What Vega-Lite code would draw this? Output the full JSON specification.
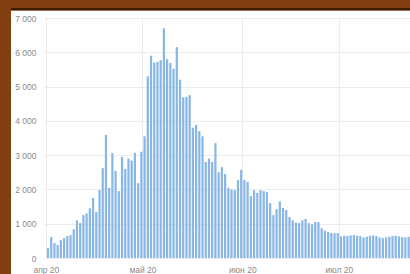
{
  "$schema": "https://vega.github.io/schema/vega-lite/v6.json",
  "width": 366,
  "height": 240,
  "autosize": {"type": "none"},
  "padding": {"left": 44, "top": 18, "right": 0, "bottom": 16},
  "background": "#ffffff",
  "config": {
    "view": {"stroke": null},
    "axis": {"labelFont": "Liberation Sans", "labelFontSize": 8.5, "labelColor": "#8a8a8a", "gridColor": "#ececec", "gridWidth": 1, "domain": false, "ticks": false, "title": null, "labelOverlap": false}
  },
  "layer": [
    {
      "data": {"values": [
        {"date": "2020-04-01", "cases": 290}, {"date": "2020-04-02", "cases": 610}, {"date": "2020-04-03", "cases": 440}, {"date": "2020-04-04", "cases": 380}, {"date": "2020-04-05", "cases": 520}, {"date": "2020-04-06", "cases": 580}, {"date": "2020-04-07", "cases": 640}, {"date": "2020-04-08", "cases": 670}, {"date": "2020-04-09", "cases": 840}, {"date": "2020-04-10", "cases": 1100},
        {"date": "2020-04-11", "cases": 1020}, {"date": "2020-04-12", "cases": 1250}, {"date": "2020-04-13", "cases": 1300}, {"date": "2020-04-14", "cases": 1450}, {"date": "2020-04-15", "cases": 1750}, {"date": "2020-04-16", "cases": 1340}, {"date": "2020-04-17", "cases": 1980}, {"date": "2020-04-18", "cases": 2620}, {"date": "2020-04-19", "cases": 3590}, {"date": "2020-04-20", "cases": 2050},
        {"date": "2020-04-21", "cases": 3060}, {"date": "2020-04-22", "cases": 2540}, {"date": "2020-04-23", "cases": 1950}, {"date": "2020-04-24", "cases": 2950}, {"date": "2020-04-25", "cases": 2600}, {"date": "2020-04-26", "cases": 2900}, {"date": "2020-04-27", "cases": 2840}, {"date": "2020-04-28", "cases": 3070}, {"date": "2020-04-29", "cases": 2180}, {"date": "2020-04-30", "cases": 3100},
        {"date": "2020-05-01", "cases": 3550}, {"date": "2020-05-02", "cases": 5300}, {"date": "2020-05-03", "cases": 5900}, {"date": "2020-05-04", "cases": 5700}, {"date": "2020-05-05", "cases": 5720}, {"date": "2020-05-06", "cases": 5770}, {"date": "2020-05-07", "cases": 6700}, {"date": "2020-05-08", "cases": 5800}, {"date": "2020-05-09", "cases": 5690}, {"date": "2020-05-10", "cases": 5520},
        {"date": "2020-05-11", "cases": 6150}, {"date": "2020-05-12", "cases": 5200}, {"date": "2020-05-13", "cases": 4690}, {"date": "2020-05-14", "cases": 4700}, {"date": "2020-05-15", "cases": 4750}, {"date": "2020-05-16", "cases": 3800}, {"date": "2020-05-17", "cases": 3880}, {"date": "2020-05-18", "cases": 3700}, {"date": "2020-05-19", "cases": 3550}, {"date": "2020-05-20", "cases": 2800},
        {"date": "2020-05-21", "cases": 2900}, {"date": "2020-05-22", "cases": 2800}, {"date": "2020-05-23", "cases": 3350}, {"date": "2020-05-24", "cases": 2500}, {"date": "2020-05-25", "cases": 2650}, {"date": "2020-05-26", "cases": 2450}, {"date": "2020-05-27", "cases": 2050}, {"date": "2020-05-28", "cases": 2000}, {"date": "2020-05-29", "cases": 1980}, {"date": "2020-05-30", "cases": 2270},
        {"date": "2020-05-31", "cases": 2570}, {"date": "2020-06-01", "cases": 2270}, {"date": "2020-06-02", "cases": 2220}, {"date": "2020-06-03", "cases": 1800}, {"date": "2020-06-04", "cases": 1980}, {"date": "2020-06-05", "cases": 1900}, {"date": "2020-06-06", "cases": 1980}, {"date": "2020-06-07", "cases": 1950}, {"date": "2020-06-08", "cases": 1920}, {"date": "2020-06-09", "cases": 1600},
        {"date": "2020-06-10", "cases": 1250}, {"date": "2020-06-11", "cases": 1420}, {"date": "2020-06-12", "cases": 1650}, {"date": "2020-06-13", "cases": 1460}, {"date": "2020-06-14", "cases": 1400}, {"date": "2020-06-15", "cases": 1200}, {"date": "2020-06-16", "cases": 1100}, {"date": "2020-06-17", "cases": 1030}, {"date": "2020-06-18", "cases": 1020}, {"date": "2020-06-19", "cases": 1100},
        {"date": "2020-06-20", "cases": 1140}, {"date": "2020-06-21", "cases": 1020}, {"date": "2020-06-22", "cases": 980}, {"date": "2020-06-23", "cases": 1050}, {"date": "2020-06-24", "cases": 1050}, {"date": "2020-06-25", "cases": 870}, {"date": "2020-06-26", "cases": 800}, {"date": "2020-06-27", "cases": 760}, {"date": "2020-06-28", "cases": 730}, {"date": "2020-06-29", "cases": 720},
        {"date": "2020-06-30", "cases": 730}, {"date": "2020-07-01", "cases": 630}, {"date": "2020-07-02", "cases": 650}, {"date": "2020-07-03", "cases": 640}, {"date": "2020-07-04", "cases": 660}, {"date": "2020-07-05", "cases": 670}, {"date": "2020-07-06", "cases": 650}, {"date": "2020-07-07", "cases": 640}, {"date": "2020-07-08", "cases": 600}, {"date": "2020-07-09", "cases": 620},
        {"date": "2020-07-10", "cases": 650}, {"date": "2020-07-11", "cases": 660}, {"date": "2020-07-12", "cases": 640}, {"date": "2020-07-13", "cases": 600}, {"date": "2020-07-14", "cases": 580}, {"date": "2020-07-15", "cases": 600}, {"date": "2020-07-16", "cases": 620}, {"date": "2020-07-17", "cases": 640}, {"date": "2020-07-18", "cases": 650}, {"date": "2020-07-19", "cases": 630},
        {"date": "2020-07-20", "cases": 610}, {"date": "2020-07-21", "cases": 600}, {"date": "2020-07-22", "cases": 620}
      ]},
      "mark": {"type": "bar", "color": "#88b6e6", "timeUnitBandSize": 0.88},
      "encoding": {
        "x": {
          "field": "date", "type": "temporal", "timeUnit": "utcyearmonthdate",
          "scale": {"type": "utc", "domain": [{"year": 2020, "month": 3, "date": 31, "hours": 10, "utc": true}, {"year": 2020, "month": 7, "date": 23, "hours": 2, "utc": true}]},
          "axis": {
            "values": [{"year": 2020, "month": 4, "date": 1, "utc": true}, {"year": 2020, "month": 5, "date": 1, "utc": true}, {"year": 2020, "month": 6, "date": 1, "utc": true}, {"year": 2020, "month": 7, "date": 1, "utc": true}],
            "labelExpr": "['янв','фев','мар','апр','май','июн','июл','авг','сен','окт','ноя','дек'][utcmonth(datum.value)] + ' 20'",
            "labelPadding": 7, "labelAlign": "center", "labelFlush": false
          }
        },
        "y": {
          "field": "cases", "type": "quantitative",
          "scale": {"domain": [0, 7000], "nice": false},
          "axis": {"values": [0, 1000, 2000, 3000, 4000, 5000, 6000, 7000], "labelExpr": "replace(format(datum.value, ','), ',', ' ')", "labelPadding": 8}
        }
      }
    },
    {
      "data": {"values": [{}]},
      "mark": {"type": "rect", "color": "#833e12"},
      "encoding": {
        "x": {"datum": {"year": 2020, "month": 3, "date": 1, "utc": true}, "type": "temporal",
          "axis": {
            "values": [{"year": 2020, "month": 4, "date": 1, "utc": true}, {"year": 2020, "month": 5, "date": 1, "utc": true}, {"year": 2020, "month": 6, "date": 1, "utc": true}, {"year": 2020, "month": 7, "date": 1, "utc": true}],
            "labelExpr": "['янв','фев','мар','апр','май','июн','июл','авг','сен','окт','ноя','дек'][utcmonth(datum.value)] + ' 20'",
            "labelPadding": 7, "labelAlign": "center", "labelFlush": false
          }},
        "x2": {"datum": {"year": 2020, "month": 3, "date": 21, "hours": 4, "utc": true}},
        "y": {"datum": 9000, "type": "quantitative",
          "axis": {"values": [0, 1000, 2000, 3000, 4000, 5000, 6000, 7000], "labelExpr": "replace(format(datum.value, ','), ',', ' ')", "labelPadding": 8}},
        "y2": {"datum": -3000}
      }
    },
    {
      "data": {"values": [{}]},
      "mark": {"type": "rect", "color": "#833e12"},
      "encoding": {
        "x": {"datum": {"year": 2020, "month": 3, "date": 1, "utc": true}, "type": "temporal",
          "axis": {
            "values": [{"year": 2020, "month": 4, "date": 1, "utc": true}, {"year": 2020, "month": 5, "date": 1, "utc": true}, {"year": 2020, "month": 6, "date": 1, "utc": true}, {"year": 2020, "month": 7, "date": 1, "utc": true}],
            "labelExpr": "['янв','фев','мар','апр','май','июн','июл','авг','сен','окт','ноя','дек'][utcmonth(datum.value)] + ' 20'",
            "labelPadding": 7, "labelAlign": "center", "labelFlush": false
          }},
        "x2": {"datum": {"year": 2020, "month": 9, "date": 1, "utc": true}},
        "y": {"datum": 9000, "type": "quantitative",
          "axis": {"values": [0, 1000, 2000, 3000, 4000, 5000, 6000, 7000], "labelExpr": "replace(format(datum.value, ','), ',', ' ')", "labelPadding": 8}},
        "y2": {"datum": 7210}
      }
    },
    {
      "data": {"values": [{}]},
      "mark": {"type": "rect", "color": "#3e1b07"},
      "encoding": {
        "x": {"datum": {"year": 2020, "month": 3, "date": 21, "hours": 4, "utc": true}, "type": "temporal",
          "axis": {
            "values": [{"year": 2020, "month": 4, "date": 1, "utc": true}, {"year": 2020, "month": 5, "date": 1, "utc": true}, {"year": 2020, "month": 6, "date": 1, "utc": true}, {"year": 2020, "month": 7, "date": 1, "utc": true}],
            "labelExpr": "['янв','фев','мар','апр','май','июн','июл','авг','сен','окт','ноя','дек'][utcmonth(datum.value)] + ' 20'",
            "labelPadding": 7, "labelAlign": "center", "labelFlush": false
          }},
        "x2": {"datum": {"year": 2020, "month": 9, "date": 1, "utc": true}},
        "y": {"datum": 7235, "type": "quantitative",
          "axis": {"values": [0, 1000, 2000, 3000, 4000, 5000, 6000, 7000], "labelExpr": "replace(format(datum.value, ','), ',', ' ')", "labelPadding": 8}},
        "y2": {"datum": 7295}
      }
    }
  ]
}
